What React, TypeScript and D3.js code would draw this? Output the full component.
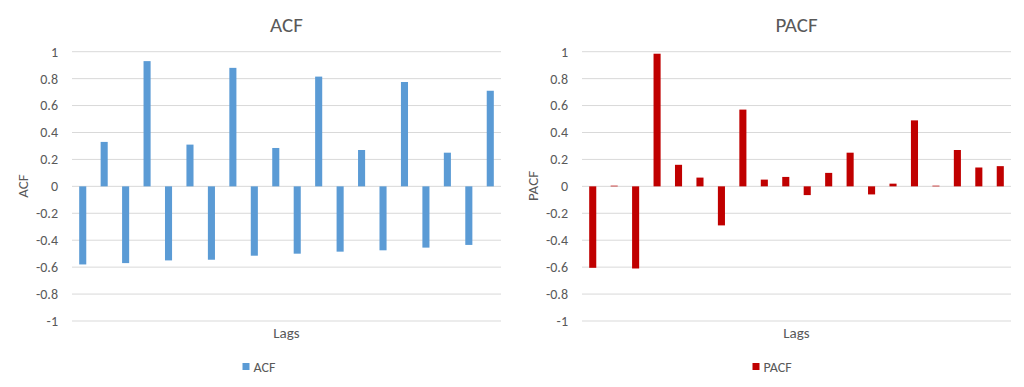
import React from 'react';
import * as d3 from 'd3';

// lags 1..20
const lags = d3.range(1, 21).map(String);
const acfValues = [-0.58, 0.33, -0.57, 0.93, -0.55, 0.31, -0.545, 0.88, -0.515, 0.285, -0.50, 0.815, -0.485, 0.27, -0.475, 0.775, -0.455, 0.25, -0.435, 0.71];
const pacfValues = [-0.605, 0.005, -0.61, 0.985, 0.16, 0.065, -0.29, 0.57, 0.05, 0.07, -0.065, 0.10, 0.25, -0.06, 0.02, 0.49, 0.005, 0.27, 0.14, 0.15];
const yTicks = [1, 0.8, 0.6, 0.4, 0.2, 0, -0.2, -0.4, -0.6, -0.8, -1];

const FONT = "Carlito, Calibri, 'Liberation Sans', 'Noto Sans', sans-serif";
const TEXT = '#595959';

function Panel({ x0, plotLeft, plotRight, title, values, color }) {
  const y = d3.scaleLinear().domain([-1, 1]).range([321, 51.7]);
  const x = d3.scaleBand().domain(lags).range([plotLeft, plotRight]).paddingInner(0.67).paddingOuter(0.335);
  const mid = (plotLeft + plotRight) / 2;
  return (
    <g transform={`translate(${x0},0)`} fontFamily={FONT}>
      <text x={mid} y={32} textAnchor="middle" fontSize={21} fill={TEXT}>{title}</text>
      {yTicks.map(t => (
        <g key={t}>
          <line x1={plotLeft} x2={plotRight} y1={y(t)} y2={y(t)} stroke="#d9d9d9" strokeWidth={1} />
          <text x={plotLeft - 14} y={y(t)} dy="0.35em" textAnchor="end" fontSize={14} fill={TEXT}>{t}</text>
        </g>
      ))}
      {values.map((v, i) => (
        <rect key={i} x={x(lags[i])} width={x.bandwidth()}
          y={y(Math.max(0, v))} height={Math.abs(y(v) - y(0))} fill={color} />
      ))}
      <text transform={`translate(${plotLeft - 44},186) rotate(-90)`} textAnchor="middle" fontSize={15} fill={TEXT}>{title}</text>
      <text x={mid} y={338} textAnchor="middle" fontSize={15} fill={TEXT}>Lags</text>
      <rect x={mid - 44} y={363} width={7} height={7} fill={color} />
      <text x={mid - 33} y={367} dy="0.35em" fontSize={14} fill={TEXT}>{title}</text>
    </g>
  );
}

export default function App() {
  return (
    <svg width={1024} height={387} style={{ position: 'absolute', left: 0, top: 0, background: '#fff' }}>
      <rect width={1024} height={387} fill="#fff" />
      <Panel x0={0} plotLeft={72} plotRight={501} title="ACF" values={acfValues} color="#5b9bd5" />
      <Panel x0={512} plotLeft={70} plotRight={499} title="PACF" values={pacfValues} color="#c00000" />
    </svg>
  );
}
